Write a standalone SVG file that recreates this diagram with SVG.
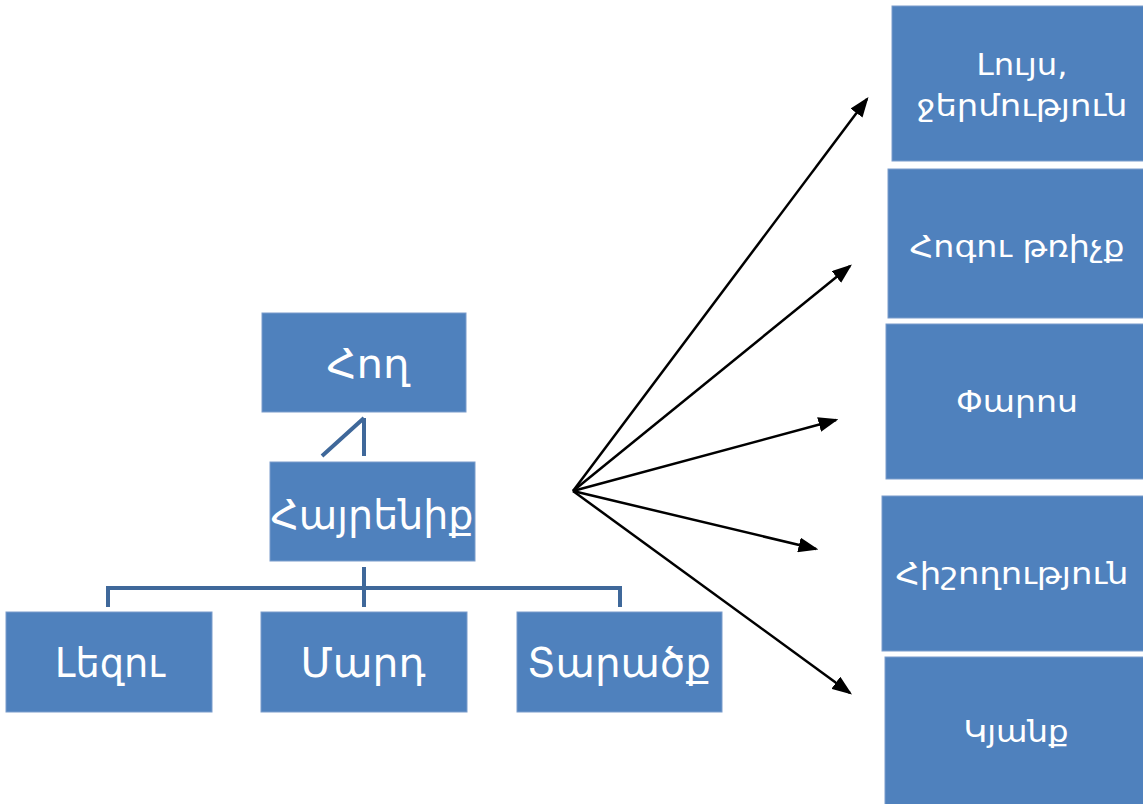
<svg xmlns="http://www.w3.org/2000/svg" width="1143" height="804" viewBox="0 0 1143 804">
<style>
.box{fill:#4F81BD;stroke:#7A9CCB;stroke-width:1}
.t{fill:#fff;font-family:"DejaVu Sans","Noto Sans","Liberation Sans",sans-serif;text-anchor:middle}
.big{font-size:40px}
.sm{font-size:31px}
.tree{stroke:#3F689A;stroke-width:4;fill:none}
.arr{stroke:#000;stroke-width:2.5;fill:none;marker-end:url(#ah)}
</style>
<defs>
<marker id="ah" markerWidth="8" markerHeight="6" refX="7" refY="3" orient="auto" markerUnits="strokeWidth">
<path d="M0,0 L8,3 L0,6 z" fill="#000"/>
</marker>
</defs>
<rect width="1143" height="804" fill="#fff"/>
<g id="connectors">
<path class="tree" d="M364,418 V456 M364,418 L322,456"/>
<path class="tree" d="M364,567 V607 M108,607 V588 H620 V607"/>
<line class="arr" x1="573" y1="491" x2="867" y2="99"/>
<line class="arr" x1="573" y1="491" x2="850" y2="266"/>
<line class="arr" x1="573" y1="491" x2="836" y2="420"/>
<line class="arr" x1="573" y1="491" x2="816" y2="549"/>
<line class="arr" x1="573" y1="491" x2="850" y2="693"/>
</g>
<g id="hogh"><rect class="box" x="262" y="313" width="204" height="99"/><text class="t big" x="368" y="378" textLength="83" lengthAdjust="spacingAndGlyphs">Հող</text></g>
<g id="hayrenik"><rect class="box" x="270" y="462" width="205" height="99"/><text class="t big" x="372" y="529" textLength="203" lengthAdjust="spacingAndGlyphs">Հայրենիք</text></g>
<g id="lezu"><rect class="box" x="6" y="612" width="206" height="100"/><text class="t big" x="110" y="677" textLength="110" lengthAdjust="spacingAndGlyphs">Լեզու</text></g>
<g id="mard"><rect class="box" x="261" y="612" width="206" height="100"/><text class="t big" x="363" y="677" textLength="125" lengthAdjust="spacingAndGlyphs">Մարդ</text></g>
<g id="taratsk"><rect class="box" x="517" y="612" width="205" height="100"/><text class="t big" x="619" y="677" textLength="184" lengthAdjust="spacingAndGlyphs">Տարածք</text></g>
<g id="luys"><rect class="box" x="892" y="6" width="252" height="155"/><text class="t sm" x="1022" y="75" textLength="91" lengthAdjust="spacingAndGlyphs">Լույս,</text><text class="t sm" x="1022" y="116" textLength="211" lengthAdjust="spacingAndGlyphs">ջերմություն</text></g>
<g id="hogu"><rect class="box" x="888" y="169" width="256" height="149"/><text class="t sm" x="1017" y="257" textLength="215" lengthAdjust="spacingAndGlyphs">Հոգու թռիչք</text></g>
<g id="faros"><rect class="box" x="886" y="324" width="258" height="155"/><text class="t sm" x="1017" y="412" textLength="122" lengthAdjust="spacingAndGlyphs">Փարոս</text></g>
<g id="hishoghutyun"><rect class="box" x="882" y="496" width="262" height="155"/><text class="t sm" x="1012" y="584" textLength="233" lengthAdjust="spacingAndGlyphs">Հիշողություն</text></g>
<g id="kyank"><rect class="box" x="885" y="657" width="259" height="148"/><text class="t sm" x="1016" y="742" textLength="105" lengthAdjust="spacingAndGlyphs">Կյանք</text></g>
</svg>
